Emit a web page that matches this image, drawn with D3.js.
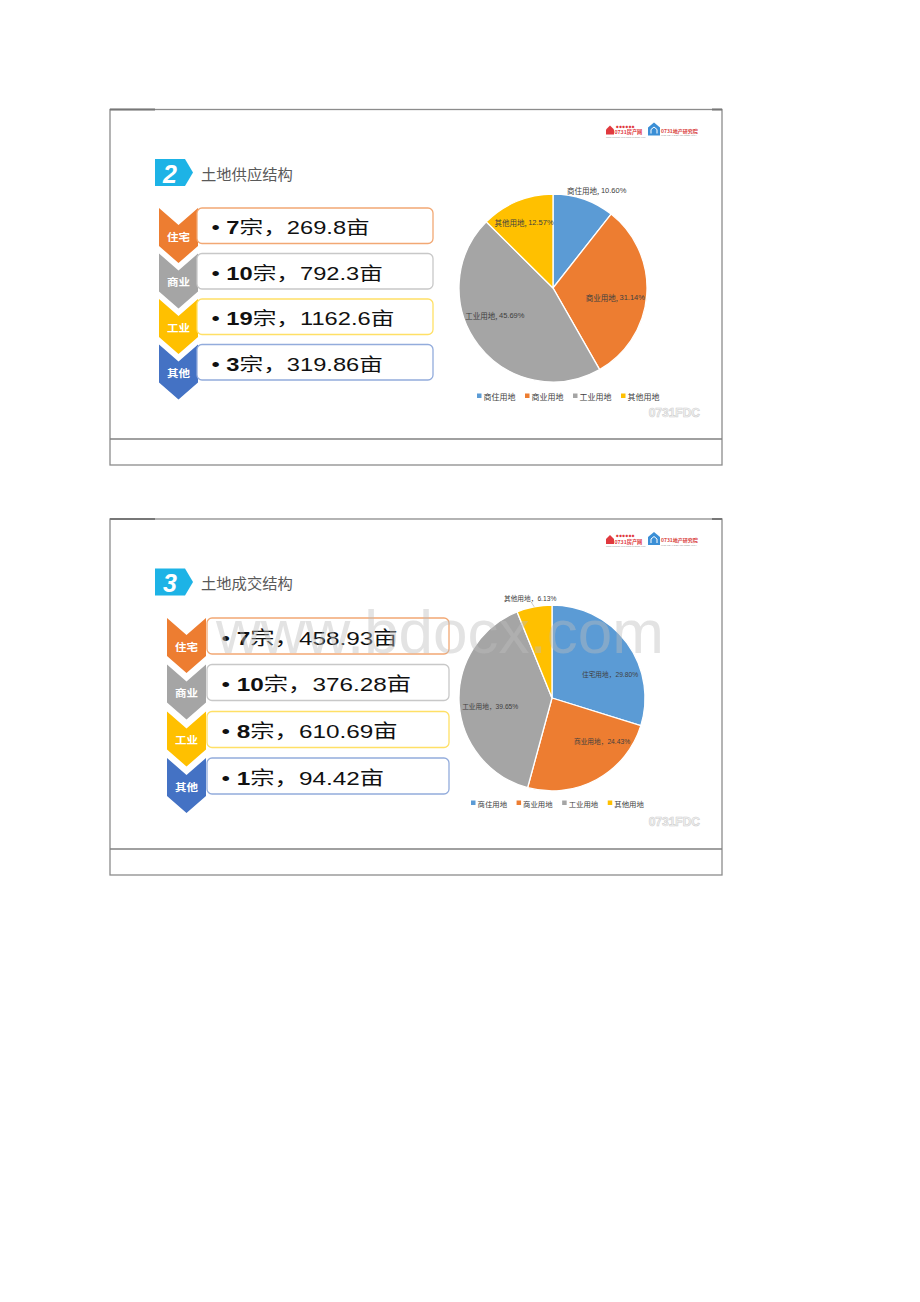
<!DOCTYPE html>
<html><head><meta charset="utf-8">
<script src="https://cdn.jsdelivr.net/npm/d3@7"></script>
<style>html,body{margin:0;padding:0;background:#fff;} svg{display:block;}</style>
</head><body>
<svg id="chart" width="920" height="1302"></svg>
<script>
// ---------- data ----------
const rowTypes = ["住宅","商业","工业","其他"];
const supplyCounts = [7, 10, 19, 3];
const supplyAreas = [269.8, 792.3, 1162.6, 319.86];
const supplyPieNames = ["商住用地","商业用地","工业用地","其他用地"];
const supplyPieShares = [10.60, 31.14, 45.69, 12.57];

const dealCounts = [7, 10, 8, 1];
const dealAreas = [458.93, 376.28, 610.69, 94.42];
const dealPieNames = ["住宅用地","商业用地","工业用地","其他用地"];
const dealPieShares = [29.80, 24.43, 39.65, 6.13];

const legendNames = ["商住用地","商业用地","工业用地","其他用地"];
const panelTitles = ["土地供应结构","土地成交结构"];
const panelNumbers = ["2","3"];

// ---------- styles ----------
const sliceColors = ["#5B9BD5","#ED7D31","#A5A5A5","#FFC000"];
const chevronColors = ["#ED7D31","#A5A5A5","#FFC000","#4472C4"];
const boxStrokes = ["#F2A874","#C8C8C8","#FFE066","#93ACDC"];
const LATIN = "'Liberation Sans', Arial, 'Noto Sans CJK SC', sans-serif";
const CJK = "'Noto Sans CJK SC', 'Liberation Sans', sans-serif";

const svg = d3.select("#chart");

const panels = [
  { top:109.5, bottom:465, inner:439, left:110, right:722,
    chevX:159, boxX:197, boxR:433, rowTops:[208,253.5,299,344.5], boxH:35.5,
    textX:211.5, fs:18.5,
    pie:{cx:553, cy:288, r:94}, labelFs:7.5, sep:", ",
    labelLayout:[{k:1.14,da:5},{k:0.67,da:4},{k:0.68,da:13},{k:0.77,da:-1}],
    legend:{x:477, y:396, fs:8},
    counts:supplyCounts, areas:supplyAreas, names:supplyPieNames, shares:supplyPieShares },
  { top:519, bottom:875, inner:849, left:110, right:722,
    chevX:167, boxX:207, boxR:449, rowTops:[618,664.5,711.5,758], boxH:36,
    textX:221.5, fs:19,
    pie:{cx:552, cy:698, r:93}, labelFs:6.7, sep:"，",
    labelLayout:[{k:0.675,da:14},{k:0.71,da:-20.5},{k:0.67,da:-4},{k:1.10,da:-1.3,leader:true}],
    legend:{x:471, y:803, fs:7.4},
    counts:dealCounts, areas:dealAreas, names:dealPieNames, shares:dealPieShares }
];

panels.forEach((p, pi) => {
  const g = svg.append("g");
  // frame
  g.append("rect").attr("x", p.left).attr("y", p.top)
    .attr("width", p.right - p.left).attr("height", p.bottom - p.top)
    .attr("fill", "#fff").attr("stroke", "#8c8c8c").attr("stroke-width", 1.3);
  g.append("line").attr("x1", p.left).attr("x2", 155).attr("y1", p.top).attr("y2", p.top)
    .attr("stroke", "#777").attr("stroke-width", 2);
  g.append("line").attr("x1", 712).attr("x2", p.right).attr("y1", p.top).attr("y2", p.top)
    .attr("stroke", "#777").attr("stroke-width", 2);
  g.append("line").attr("x1", p.left).attr("x2", p.right).attr("y1", p.inner).attr("y2", p.inner)
    .attr("stroke", "#808080").attr("stroke-width", 1.3);

  // logos (top right)
  const ly = p.top + 15;
  const lg = g.append("g").attr("transform", `translate(606,${ly})`);
  lg.append("path").attr("d", "M0,10 L0,5 L4,1 L8,5 L8,10 Z").attr("fill", "#E0393E");
  lg.append("text").attr("x", 8.5).attr("y", 9.5).attr("font-family", CJK).attr("font-size", 5.2)
    .attr("font-weight", 700).attr("fill", "#E0393E").text("0731房产网");
  lg.append("text").attr("x", 10).attr("y", 3).attr("font-family", CJK).attr("font-size", 2.6)
    .attr("fill", "#E0393E").text("● ● ● ● ● ●");
  lg.append("text").attr("x", 0).attr("y", 13).attr("font-family", LATIN).attr("font-size", 2.4)
    .attr("fill", "#999").text("www.0731fdc.com  www.0731fdc.com");
  const bg = g.append("g").attr("transform", `translate(648,${ly - 2})`);
  bg.append("path").attr("d", "M0,13 L0,5 L6,0 L12,5 L12,13 Z").attr("fill", "#3B8FD6");
  bg.append("path").attr("d", "M3,11 L3,7 L6,4.5 L9,7 L9,11").attr("fill", "none")
    .attr("stroke", "#fff").attr("stroke-width", 1);
  bg.append("text").attr("x", 13).attr("y", 10).attr("font-family", CJK).attr("font-size", 5)
    .attr("font-weight", 700).attr("fill", "#D9423D").text("0731地产研究院");
  bg.append("text").attr("x", 13).attr("y", 13.5).attr("font-family", LATIN).attr("font-size", 2.4)
    .attr("fill", "#999").text("0731 REAL ESTATE RESEARCH");

  // title icon
  const iy = p.top + 49.5;
  g.append("path").attr("d", `M155,${iy} H185 L193,${iy + 13.5} L185,${iy + 27} H155 Z`)
    .attr("fill", "#1DB3E6");
  g.append("text").attr("x", 170).attr("y", iy + 23.5).attr("text-anchor", "middle")
    .attr("font-family", LATIN).attr("font-size", 25).attr("font-weight", 700)
    .attr("font-style", "italic").attr("fill", "#fff").text(panelNumbers[pi]);
  g.append("text").attr("x", 201).attr("y", iy + 13.5).attr("dominant-baseline", "central")
    .attr("font-family", CJK).attr("font-size", 15.3).attr("fill", "#595959")
    .text(panelTitles[pi]);

  // rows
  const chW = 39, chH = 55, chD = 17;
  rowTypes.forEach((t, i) => {
    const top = p.rowTops[i];
    const x0 = p.chevX, x1 = p.chevX + chW, xc = p.chevX + chW / 2;
    g.append("path")
      .attr("d", `M${x0},${top} L${xc},${top + chD} L${x1},${top} L${x1},${top + chH - chD} L${xc},${top + chH} L${x0},${top + chH - chD} Z`)
      .attr("fill", chevronColors[i]);
    g.append("g").attr("transform", `translate(${xc},${top + 28.5}) scale(1.15,1)`)
      .append("text").attr("text-anchor", "middle").attr("dominant-baseline", "central")
      .attr("font-family", CJK).attr("font-size", 10).attr("font-weight", 700)
      .attr("fill", "#fff").text(t);

    g.append("rect").attr("x", p.boxX).attr("y", top)
      .attr("width", p.boxR - p.boxX).attr("height", p.boxH)
      .attr("rx", 5).attr("ry", 5).attr("fill", "#fff")
      .attr("stroke", boxStrokes[i]).attr("stroke-width", 1.3);

    const tx = g.append("g")
      .attr("transform", `translate(${p.textX},${top + p.boxH / 2 + 8.7}) scale(1.28,1)`)
      .append("text").attr("font-size", p.fs).attr("fill", "#111");
    tx.append("tspan").attr("font-family", LATIN).text("• ");
    tx.append("tspan").attr("font-family", LATIN).attr("font-weight", 700).text(p.counts[i]);
    tx.append("tspan").attr("font-family", CJK).text("宗，");
    tx.append("tspan").attr("font-family", LATIN).text(p.areas[i]);
    tx.append("tspan").attr("font-family", CJK).text("亩");
  });

  // pie
  const pie = d3.pie().sort(null).value(d => d).startAngle(0).endAngle(2 * Math.PI);
  const arcs = pie(p.shares);
  const arc = d3.arc().innerRadius(0).outerRadius(p.pie.r);
  const pg = g.append("g").attr("transform", `translate(${p.pie.cx},${p.pie.cy})`);
  pg.selectAll("path.slice").data(arcs).join("path").attr("class", "slice")
    .attr("d", arc).attr("fill", (d, i) => sliceColors[i])
    .attr("stroke", "#fff").attr("stroke-width", 1.3);

  arcs.forEach((a, i) => {
    const L = p.labelLayout[i];
    const mid = (a.startAngle + a.endAngle) / 2;
    const ang = mid + L.da * Math.PI / 180;
    const R = L.k * p.pie.r;
    const x = R * Math.sin(ang), y = -R * Math.cos(ang);
    if (L.leader) {
      pg.append("line")
        .attr("x1", p.pie.r * Math.sin(mid)).attr("y1", -p.pie.r * Math.cos(mid))
        .attr("x2", x + 1).attr("y2", y + 4)
        .attr("stroke", "#a6a6a6").attr("stroke-width", 0.6);
    }
    const t = pg.append("text").attr("x", x).attr("y", y)
      .attr("text-anchor", "middle").attr("dominant-baseline", "central")
      .attr("font-size", p.labelFs).attr("fill", "#404040");
    t.append("tspan").attr("font-family", CJK).text(p.names[i] + p.sep);
    t.append("tspan").attr("font-family", LATIN).text(p.shares[i].toFixed(2) + "%");
  });

  // legend
  let lx = p.legend.x;
  legendNames.forEach((n, i) => {
    g.append("rect").attr("x", lx).attr("y", p.legend.y - 2.5).attr("width", 4.5).attr("height", 4.5)
      .attr("fill", sliceColors[i]);
    const t = g.append("text").attr("x", lx + 6.5).attr("y", p.legend.y)
      .attr("dominant-baseline", "central").attr("font-family", CJK)
      .attr("font-size", p.legend.fs).attr("fill", "#404040").text(n);
    lx += 6.5 + t.node().getComputedTextLength() + 9.5;
  });

  // watermark logo text
  g.append("text").attr("x", 700).attr("y", p.top + 307).attr("text-anchor", "end")
    .attr("font-family", LATIN).attr("font-size", 12).attr("font-weight", 700)
    .attr("fill", "#f4f4f4").attr("stroke", "#cfcfcf").attr("stroke-width", 0.6)
    .text("0731FDC");
});

// site watermark
svg.append("text").attr("x", 216).attr("y", 653)
  .attr("font-family", LATIN).attr("font-size", 62)
  .attr("fill", "#bdbdbd").attr("opacity", 0.42).text("www.bdocx.com");
</script>
</body></html>
